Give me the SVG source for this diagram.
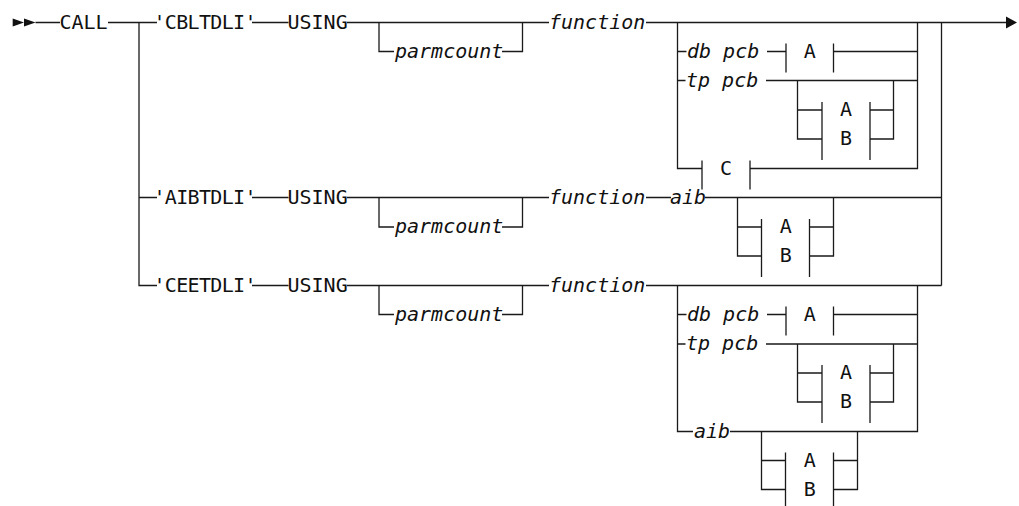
<svg xmlns="http://www.w3.org/2000/svg" width="1019" height="506" viewBox="0 0 1019 506">
<style>
.l{stroke:#1a1a1a;stroke-width:1.3;fill:none}
.h{fill:#111;stroke:none}
.t{font-family:"DejaVu Sans Mono","Liberation Mono",monospace;font-size:20px;fill:#111}
.i{font-style:italic}
.m{text-anchor:middle}
</style>
<rect width="1019" height="506" fill="#fff"/>
<g id="connectors">
<polygon class="h" points="12.7,18.5 24,22.5 12.7,26.5"/>
<polygon class="h" points="24,18.5 35.5,22.5 24,26.5"/>
<polygon class="h" points="1006,16.5 1017,22.5 1006,28.5"/>
<path class="l" d="M35.5 22.5H60M108 22.5H157M252 22.5H288.5M347 22.5H549M646 22.5H1006"/>
<path class="l" d="M139 22.5V285.5H157M139 197.5H157"/>
<path class="l" d="M252 197.5H288.5M347 197.5H549M646 197.5H671M705 197.5H941.5"/>
<path class="l" d="M252 285.5H288.5M347 285.5H549M646 285.5H941.5"/>
<path class="l" d="M941.5 22.5V285.5"/>
<path class="l" d="M379 22.5V51.5H394M502 51.5H522.5V22.5"/>
<path class="l" d="M379 197.5V227H394M502 227H522.5V197.5"/>
<path class="l" d="M379 285.5V314.5H394M502 314.5H522.5V285.5"/>
<path class="l" d="M677.5 22.5V168.5H702M917.5 22.5V168.5H750M677.5 51.5H686.5M767 51.5H786M833.5 51.5H917.5M786 43.5V72.5M833.5 43.5V72.5"/>
<path class="l" d="M677.5 80.5H685.5M766 80.5H917.5M797.5 80.5V139H822M797.5 110H822M893.5 80.5V139H870M870 110H893.5M822 102V160M870 102V160"/>
<path class="l" d="M702 160.5V189.5M750 160.5V189.5"/>
<path class="l" d="M737.5 197.5V256H761.5M737.5 227H761.5M833.5 197.5V256H809.5M809.5 227H833.5M761.5 219V277M809.5 219V277"/>
<path class="l" d="M677.5 285.5V431.5H693M917.5 285.5V431.5H730M677.5 314.5H686.5M767 314.5H786M833.5 314.5H917.5M786 306.5V335.5M833.5 306.5V335.5"/>
<path class="l" d="M677.5 344H685.5M766 344H917.5M797.5 344V402H822M797.5 373H822M893.5 344V402H870M870 373H893.5M822 365V423M870 365V423"/>
<path class="l" d="M761.5 431.5V489.5H785.5M761.5 460.5H785.5M857.5 431.5V489.5H833.5M833.5 460.5H857.5M785.5 452.5V510M833.5 452.5V510"/>
</g>
<g id="n-call"><text class="t" x="59.5" y="28.5">CALL</text></g>
<g id="n-cbltdli"><text class="t" x="153.5" y="28.5" textLength="103">'CBLTDLI'</text></g>
<g id="n-using1"><text class="t" x="287.5" y="28.5">USING</text></g>
<g id="n-parm1"><text class="t i" x="395" y="57.5">parmcount</text></g>
<g id="n-func1"><text class="t i" x="549" y="28.5">function</text></g>
<g id="n-db1"><text class="t i" x="687" y="57.5">db pcb</text></g>
<g id="n-db1-a"><text class="t m" x="809.7" y="57.5">A</text></g>
<g id="n-tp1"><text class="t i" x="686" y="86.5">tp pcb</text></g>
<g id="n-tp1-ab"><text class="t m" x="846" y="116">A</text><text class="t m" x="846" y="145">B</text></g>
<g id="n-c"><text class="t m" x="726" y="174.5">C</text></g>
<g id="n-aibtdli"><text class="t" x="153.5" y="203.5" textLength="103">'AIBTDLI'</text></g>
<g id="n-using2"><text class="t" x="287.5" y="203.5">USING</text></g>
<g id="n-parm2"><text class="t i" x="395" y="233">parmcount</text></g>
<g id="n-func2"><text class="t i" x="549" y="203.5">function</text></g>
<g id="n-aib2"><text class="t i" x="670" y="203.5">aib</text></g>
<g id="n-aib2-ab"><text class="t m" x="785.7" y="233">A</text><text class="t m" x="785.7" y="262">B</text></g>
<g id="n-ceetdli"><text class="t" x="153.5" y="291.5" textLength="103">'CEETDLI'</text></g>
<g id="n-using3"><text class="t" x="287.5" y="291.5">USING</text></g>
<g id="n-parm3"><text class="t i" x="395" y="320.5">parmcount</text></g>
<g id="n-func3"><text class="t i" x="549" y="291.5">function</text></g>
<g id="n-db3"><text class="t i" x="687" y="320.5">db pcb</text></g>
<g id="n-db3-a"><text class="t m" x="809.7" y="320.5">A</text></g>
<g id="n-tp3"><text class="t i" x="686" y="350">tp pcb</text></g>
<g id="n-tp3-ab"><text class="t m" x="846" y="379">A</text><text class="t m" x="846" y="408">B</text></g>
<g id="n-aib3"><text class="t i" x="694" y="437.5">aib</text></g>
<g id="n-aib3-ab"><text class="t m" x="809.7" y="466.5">A</text><text class="t m" x="809.7" y="495.5">B</text></g>
</svg>
